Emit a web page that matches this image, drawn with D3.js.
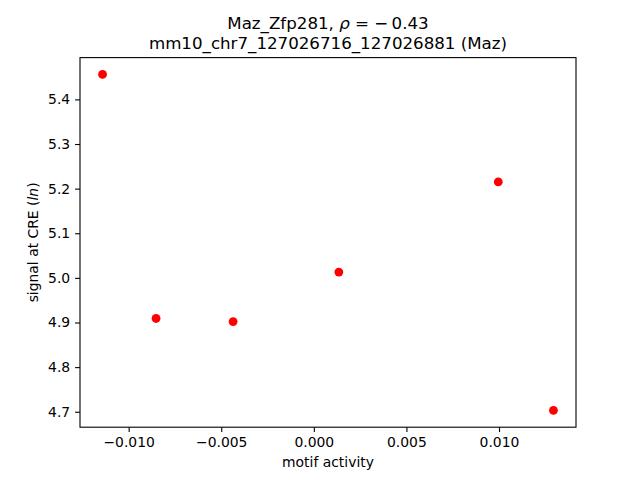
<!DOCTYPE html>
<html>
<head>
<meta charset="utf-8">
<script src="https://cdn.jsdelivr.net/npm/d3@7"></script>
<style>
  body { margin: 0; background: #fff; }
  svg { display: block; font-family: "DejaVu Sans", sans-serif; }
</style>
</head>
<body>
<svg id="chart" width="640" height="480"></svg>
<script>
const motifActivity = [-0.01141, -0.00852, -0.00436, 0.00135, 0.00996, 0.01294];
const signalAtCRE = [5.456, 4.909, 4.902, 5.013, 5.215, 4.703];
const xTicks = [-0.010, -0.005, 0.000, 0.005, 0.010];
const yTicks = [4.7, 4.8, 4.9, 5.0, 5.1, 5.2, 5.3, 5.4];

const svg = d3.select("#chart");
const margin = {left: 80, right: 576, top: 57.6, bottom: 427.2};

function padded(arr) {
  const [a, b] = d3.extent(arr);
  const m = (b - a) * 0.05;
  return [a - m, b + m];
}

const x = d3.scaleLinear().domain(padded(motifActivity)).range([margin.left, margin.right]);
const y = d3.scaleLinear().domain(padded(signalAtCRE)).range([margin.bottom, margin.top]);

svg.append("rect").attr("width", 640).attr("height", 480).attr("fill", "#fff");

const fmtX = v => (v < 0 ? "\u2212" : "") + Math.abs(v).toFixed(3);
const fmtY = v => v.toFixed(1);

const xAxis = svg.append("g").attr("transform", `translate(0,${margin.bottom})`)
  .call(d3.axisBottom(x).tickValues(xTicks).tickFormat(fmtX).tickSizeInner(4.9).tickSizeOuter(0).tickPadding(4.9));
const yAxis = svg.append("g").attr("transform", `translate(${margin.left},0)`)
  .call(d3.axisLeft(y).tickValues(yTicks).tickFormat(fmtY).tickSizeInner(4.9).tickSizeOuter(0).tickPadding(4.9));

[xAxis, yAxis].forEach(g => {
  g.select(".domain").remove();
  g.selectAll(".tick line").attr("stroke", "#000").attr("stroke-width", 1.1);
  g.selectAll(".tick text").attr("fill", "#000").style("font-size", "13.9px").style("font-family", "DejaVu Sans, sans-serif");
});

// frame
svg.append("rect")
  .attr("x", margin.left).attr("y", margin.top)
  .attr("width", margin.right - margin.left).attr("height", margin.bottom - margin.top)
  .attr("fill", "none").attr("stroke", "#000").attr("stroke-width", 1.1);

// points
svg.append("g").selectAll("circle")
  .data(motifActivity.map((v, i) => [v, signalAtCRE[i]]))
  .join("circle")
  .attr("cx", d => x(d[0]))
  .attr("cy", d => y(d[1]))
  .attr("r", 4.4)
  .attr("fill", "#ff0000");

// titles
const cx = (margin.left + margin.right) / 2;
const t1 = svg.append("text").attr("x", cx).attr("y", 29.3).attr("text-anchor", "middle")
  .style("font-size", "16.67px").attr("fill", "#000");
t1.append("tspan").text("Maz_Zfp281, ");
t1.append("tspan").style("font-style", "italic").text("\u03C1");
t1.append("tspan").text(" = \u2212\u20090.43");

svg.append("text").attr("x", cx).attr("y", 49.3).attr("text-anchor", "middle")
  .style("font-size", "16.67px").attr("fill", "#000")
  .text("mm10_chr7_127026716_127026881 (Maz)");

// axis labels
svg.append("text").attr("x", cx).attr("y", 467).attr("text-anchor", "middle")
  .style("font-size", "13.9px").attr("fill", "#000").text("motif activity");

const yl = svg.append("text").attr("transform", `translate(38,${(margin.top + margin.bottom) / 2}) rotate(-90)`)
  .attr("text-anchor", "middle").style("font-size", "13.9px").attr("fill", "#000");
yl.append("tspan").text("signal at CRE (");
yl.append("tspan").style("font-style", "italic").text("ln");
yl.append("tspan").text(")");
</script>
</body>
</html>
